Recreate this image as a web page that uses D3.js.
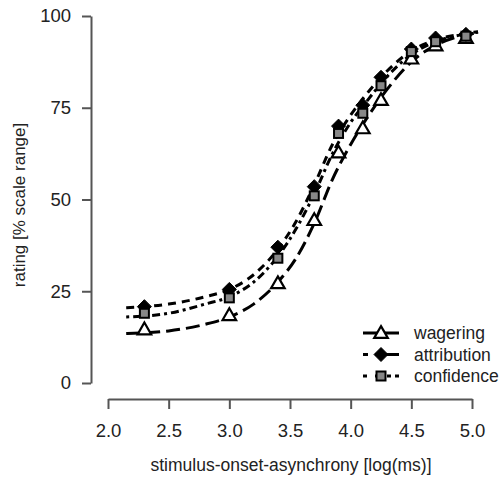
<!DOCTYPE html>
<html>
<head>
<meta charset="utf-8">
<script src="https://cdn.jsdelivr.net/npm/d3@7"></script>
<style>
  body { margin: 0; background: #fff; }
  text { font-family: "Liberation Sans", Arial, sans-serif; fill: #222; }
</style>
</head>
<body>
<div id="container"></div>
<script>
// observed points (x = log(ms))
var soa = [2.3, 3.0, 3.4, 3.7, 3.9, 4.1, 4.25, 4.5, 4.7, 4.95];
var wagering = [14.6, 18.5, 27.2, 44.4, 62.8, 69.4, 77.1, 88.4, 92.0, 94.0];
var attribution = [20.8, 25.5, 37.0, 53.5, 70.0, 75.7, 83.3, 91.0, 94.0, 95.0];
var confidence = [19.0, 23.2, 34.0, 51.0, 68.0, 73.5, 81.0, 90.3, 93.0, 94.5];

// fitted curves
var fitX = [2.15, 2.5, 2.8, 3.0, 3.2, 3.4, 3.55, 3.7, 3.85, 4.0, 4.15, 4.3, 4.5, 4.7, 4.9, 5.05];
var wageringFit = [13.5, 14.2, 16, 18, 21.5, 27.5, 34, 43.5, 55.5, 65, 73, 80, 87.5, 92, 94.5, 95.5];
var attributionFit = [20.5, 21.5, 23.5, 25.5, 29.5, 36.5, 44, 54, 65, 73, 79.5, 85, 90.5, 93.5, 95, 95.7];
var confidenceFit = [18, 19, 21.5, 23.5, 27.5, 34.5, 42, 51.5, 62.5, 71, 77.5, 83.5, 89.5, 93, 94.8, 95.6];

var xTicks = [2.0, 2.5, 3.0, 3.5, 4.0, 4.5, 5.0];
var yTicks = [0, 25, 50, 75, 100];
var seriesNames = ["wagering", "attribution", "confidence"];

var width = 502, height = 480;

var svg = d3.select("#container")
  .append("svg")
  .attr("width", width)
  .attr("height", height);

var x = d3.scaleLinear().domain([2, 5]).range([108, 472]);
var y = d3.scaleLinear().domain([0, 100]).range([383, 16]);

// axes
var yAxis = svg.append("g")
  .attr("transform", "translate(91,0)")
  .call(d3.axisLeft(y).tickValues(yTicks).tickSize(9).tickSizeOuter(0).tickPadding(11));
var xAxis = svg.append("g")
  .attr("transform", "translate(0,399)")
  .call(d3.axisBottom(x).tickValues(xTicks).tickFormat(d3.format(".1f")).tickSize(10).tickSizeOuter(0).tickPadding(15));

[yAxis, xAxis].forEach(function(a) {
  a.selectAll("path, line").attr("stroke", "#555").attr("stroke-width", 2);
  a.selectAll("text").style("font-size", "18.5px").attr("fill", "#222");
});

svg.append("text")
  .attr("x", 291).attr("y", 471)
  .attr("text-anchor", "middle")
  .style("font-size", "17.5px")
  .text("stimulus-onset-asynchrony [log(ms)]");

svg.append("text")
  .attr("transform", "translate(25,205) rotate(-90)")
  .attr("text-anchor", "middle")
  .style("font-size", "17px")
  .text("rating [% scale range]");

// curves
var dashes = { wagering: "14,6", attribution: "8,6", confidence: "3,4,8,4" };
var fits = { wagering: wageringFit, attribution: attributionFit, confidence: confidenceFit };
var pts = { wagering: wagering, attribution: attribution, confidence: confidence };

var line = d3.line()
  .x(function(d) { return x(d[0]); })
  .y(function(d) { return y(d[1]); })
  .curve(d3.curveMonotoneX);

seriesNames.forEach(function(name) {
  svg.append("path")
    .datum(fitX.map(function(v, i) { return [v, fits[name][i]]; }))
    .attr("d", line)
    .attr("fill", "none")
    .attr("stroke", "#000")
    .attr("stroke-width", 3)
    .attr("stroke-dasharray", dashes[name]);
});

// markers
var symTri = d3.symbol().type(d3.symbolTriangle).size(80);

function drawMarker(g, name) {
  if (name === "wagering") {
    g.append("path").attr("d", symTri).attr("transform", "translate(0,1)")
      .attr("fill", "#fff").attr("stroke", "#000").attr("stroke-width", 2.2);
  } else if (name === "attribution") {
    g.append("path").attr("d", "M0,-7L7,0L0,7L-7,0Z")
      .attr("fill", "#000").attr("stroke", "#000").attr("stroke-width", 1);
  } else {
    g.append("rect").attr("x", -4.5).attr("y", -4.5).attr("width", 9).attr("height", 9)
      .attr("fill", "#888").attr("stroke", "#000").attr("stroke-width", 2);
  }
}

seriesNames.forEach(function(name) {
  svg.selectAll("g.m-" + name)
    .data(soa.map(function(v, i) { return [v, pts[name][i]]; }))
    .enter()
    .append("g")
    .attr("class", "m-" + name)
    .attr("transform", function(d) { return "translate(" + x(d[0]) + "," + y(d[1]) + ")"; })
    .each(function() { drawMarker(d3.select(this), name); });
});

// legend
var legend = svg.append("g").attr("transform", "translate(363,333)");
seriesNames.forEach(function(name, i) {
  var row = legend.append("g").attr("transform", "translate(0," + (i * 21.5) + ")");
  row.append("line")
    .attr("x1", 0).attr("x2", 36).attr("y1", 0).attr("y2", 0)
    .attr("stroke", "#000").attr("stroke-width", 3)
    .attr("stroke-dasharray", i === 0 ? null : (i === 1 ? "5,7,30" : "4,8,4,8,4"));
  var m = row.append("g").attr("transform", "translate(18,0)");
  drawMarker(m, name);
  row.append("text")
    .attr("x", 51).attr("y", 6)
    .style("font-size", "17.5px")
    .text(name);
});
</script>
</body>
</html>
